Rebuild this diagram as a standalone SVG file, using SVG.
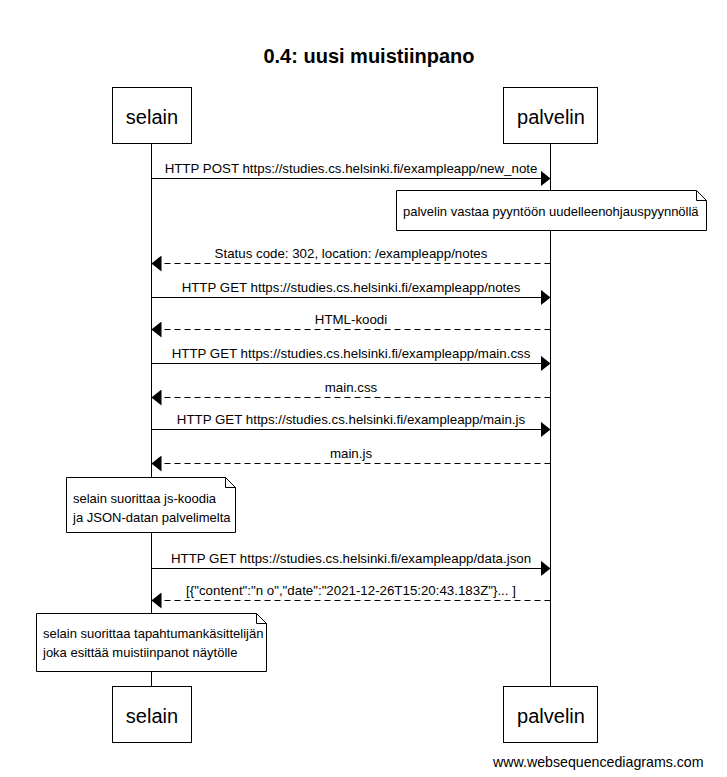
<svg xmlns="http://www.w3.org/2000/svg" width="727" height="777" viewBox="0 0 727 777">
  <style>
    text { font-family: "Liberation Sans", Arial, sans-serif; fill: #000; }
    .title { font-size: 20px; font-weight: bold; text-anchor: middle; }
    .actor rect { fill: #fff; stroke: #000; stroke-width: 1; }
    .actor text { font-size: 20px; text-anchor: middle; }
    .life { stroke: #000; stroke-width: 1; }
    .msg { stroke: #000; stroke-width: 1; fill: none; }
    .ret { stroke-dasharray: 6 4; }
    .lbl { font-size: 13.3px; text-anchor: middle; }
    .note path { fill: #fff; stroke: #000; stroke-width: 1; }
    .note text { font-size: 13px; }
    .mark { font-size: 14.2px; }
  </style>
  <defs>
    <marker id="head" viewBox="0 0 10 16" refX="10" refY="8" markerWidth="10" markerHeight="16" markerUnits="userSpaceOnUse" orient="auto">
      <path d="M0,0 L10,8 L0,16 Z" fill="#000"/>
    </marker>
  </defs>

  <text class="title" x="369" y="63">0.4: uusi muistiinpano</text>

  <!-- lifelines -->
  <g id="lifelines">
    <line class="life" x1="151.5" y1="144" x2="151.5" y2="686"/>
    <line class="life" x1="550.5" y1="144" x2="550.5" y2="686"/>
  </g>

  <!-- participants, top and bottom -->
  <g id="selain-top" class="actor">
    <rect x="112.5" y="87.5" width="79" height="56"/>
    <text x="152" y="124">selain</text>
  </g>
  <g id="palvelin-top" class="actor">
    <rect x="503.5" y="87.5" width="94" height="56"/>
    <text x="551" y="124">palvelin</text>
  </g>
  <g id="selain-bottom" class="actor">
    <rect x="112.5" y="686.5" width="79" height="56"/>
    <text x="152" y="723">selain</text>
  </g>
  <g id="palvelin-bottom" class="actor">
    <rect x="503.5" y="686.5" width="94" height="56"/>
    <text x="551" y="723">palvelin</text>
  </g>

  <!-- messages -->
  <g id="connectors">
    <line class="msg" x1="151.5" y1="178.5" x2="550.5" y2="178.5" marker-end="url(#head)"/>
    <text class="lbl" x="351" y="173">HTTP POST https://studies.cs.helsinki.fi/exampleapp/new_note</text>

    <line class="msg ret" x1="550.5" y1="263.5" x2="151.5" y2="263.5" marker-end="url(#head)"/>
    <text class="lbl" x="351" y="258">Status code: 302, location: /exampleapp/notes</text>

    <line class="msg" x1="151.5" y1="297.5" x2="550.5" y2="297.5" marker-end="url(#head)"/>
    <text class="lbl" x="351" y="292">HTTP GET https://studies.cs.helsinki.fi/exampleapp/notes</text>

    <line class="msg ret" x1="550.5" y1="329.5" x2="151.5" y2="329.5" marker-end="url(#head)"/>
    <text class="lbl" x="351" y="324">HTML-koodi</text>

    <line class="msg" x1="151.5" y1="363.5" x2="550.5" y2="363.5" marker-end="url(#head)"/>
    <text class="lbl" x="351" y="358">HTTP GET https://studies.cs.helsinki.fi/exampleapp/main.css</text>

    <line class="msg ret" x1="550.5" y1="397.5" x2="151.5" y2="397.5" marker-end="url(#head)"/>
    <text class="lbl" x="351" y="392">main.css</text>

    <line class="msg" x1="151.5" y1="429.5" x2="550.5" y2="429.5" marker-end="url(#head)"/>
    <text class="lbl" x="351" y="424">HTTP GET https://studies.cs.helsinki.fi/exampleapp/main.js</text>

    <line class="msg ret" x1="550.5" y1="463.5" x2="151.5" y2="463.5" marker-end="url(#head)"/>
    <text class="lbl" x="351" y="458">main.js</text>

    <line class="msg" x1="151.5" y1="568.5" x2="550.5" y2="568.5" marker-end="url(#head)"/>
    <text class="lbl" x="351" y="563">HTTP GET https://studies.cs.helsinki.fi/exampleapp/data.json</text>

    <line class="msg ret" x1="550.5" y1="600.5" x2="151.5" y2="600.5" marker-end="url(#head)"/>
    <text class="lbl" x="351" y="595">[{"content":"n o","date":"2021-12-26T15:20:43.183Z"}... ]</text>
  </g>

  <!-- notes -->
  <g id="note-redirect" class="note">
    <path d="M396.5,190.5 H696.5 L706.5,200.5 V230.5 H396.5 Z M696.5,190.5 V200.5 H706.5"/>
    <text x="403" y="216">palvelin vastaa pyyntöön uudelleenohjauspyynnöllä</text>
  </g>
  <g id="note-js" class="note">
    <path d="M66.5,477.5 H225.5 L235.5,487.5 V532.5 H66.5 Z M225.5,477.5 V487.5 H235.5"/>
    <text x="73" y="503">selain suorittaa js-koodia</text>
    <text x="73" y="522">ja JSON-datan palvelimelta</text>
  </g>
  <g id="note-render" class="note">
    <path d="M36.5,613.5 H256.5 L266.5,623.5 V671.5 H36.5 Z M256.5,613.5 V623.5 H266.5"/>
    <text x="43" y="638">selain suorittaa tapahtumankäsittelijän</text>
    <text x="43" y="657">joka esittää muistiinpanot näytölle</text>
  </g>

  <text class="mark" x="493" y="767">www.websequencediagrams.com</text>
</svg>
